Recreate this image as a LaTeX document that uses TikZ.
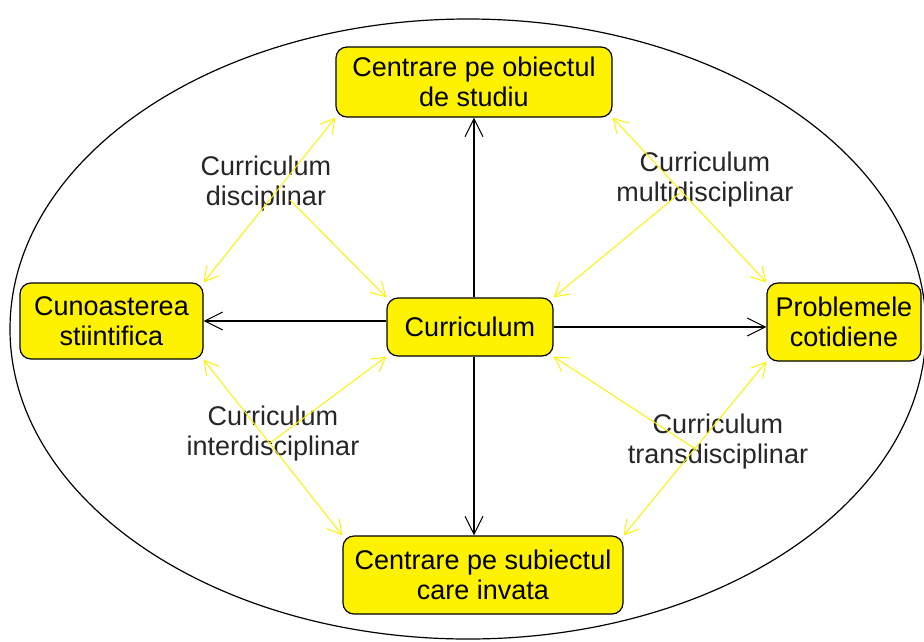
\documentclass[tikz,border=0pt]{standalone}
\usepackage{fontspec}
\setmainfont{Liberation Sans}
\usetikzlibrary{arrows.meta}

\begin{document}
\begin{tikzpicture}[x=1pt,y=-1pt,
  font=\fontsize{27}{30}\selectfont,
  box/.style={draw=black, line width=1.2pt, fill=yellow, rounded corners=11pt, align=center, inner sep=0pt},
  lbl/.style={align=center, text=black!85, inner sep=0pt},
  arr/.style={line width=1.2pt, -{Straight Barb[length=18pt,width=18pt,line width=1pt]}},
  ylink/.style={yellow, line width=1pt, {Straight Barb[length=14pt,width=16pt]}-{Straight Barb[length=14pt,width=16pt]}},
  yend/.style={yellow, line width=1pt, -{Straight Barb[length=14pt,width=16pt]}}]

\useasboundingbox (0,0) rectangle (924,641);

\draw[line width=1.2pt] (468,329) ellipse [x radius=458pt, y radius=310pt];

\node[box, minimum width=276pt, minimum height=70pt] (obj) at (474,82) {Centrare pe obiectul\\de studiu};
\node[box, minimum width=183pt, minimum height=76pt] (cun) at (111.5,321) {Cunoasterea\\stiintifica};
\node[box, minimum width=166pt, minimum height=58pt] (cur) at (470,327) {Curriculum};
\node[box, minimum width=154pt, minimum height=78pt] (prob) at (844,322) {Problemele\\cotidiene};
\node[box, minimum width=280pt, minimum height=78pt] (subj) at (483,575) {Centrare pe subiectul\\care invata};

\node[lbl] (dis) at (266,184) {Curriculum\\disciplinar};
\node[lbl] (mult) at (705,180) {Curriculum\\multidisciplinar};
\node[lbl] (inter) at (273,434) {Curriculum\\interdisciplinar};
\node[lbl] (trans) at (718,442) {Curriculum\\transdisciplinar};

\coordinate (disx) at (290,200);
\coordinate (multx) at (680,193);
\coordinate (interx) at (270,443);
\coordinate (transx) at (697,450);

% the four kinds of curriculum
\draw[ylink] (obj.south west) -- (cun.north east);
\draw[yend] (disx) -- (cur.north west);
\draw[ylink] (obj.south east) -- (prob.north west);
\draw[yend] (multx) -- (cur.north east);
\draw[ylink] (cun.south east) -- (subj.north west);
\draw[yend] (interx) -- (cur.south west);
\draw[ylink] (prob.south west) -- (subj.north east);
\draw[yend] (transx) -- (cur.south east);

\draw[arr] (cur.north -| obj) -- (obj.south);
\draw[arr] (cur.south -| obj) -- (subj.north -| obj);
\draw[arr] (cur.west |- cun) -- (cun.east);
\draw[arr] (cur.east) -- (cur.east -| prob.west);

\end{tikzpicture}
\end{document}
